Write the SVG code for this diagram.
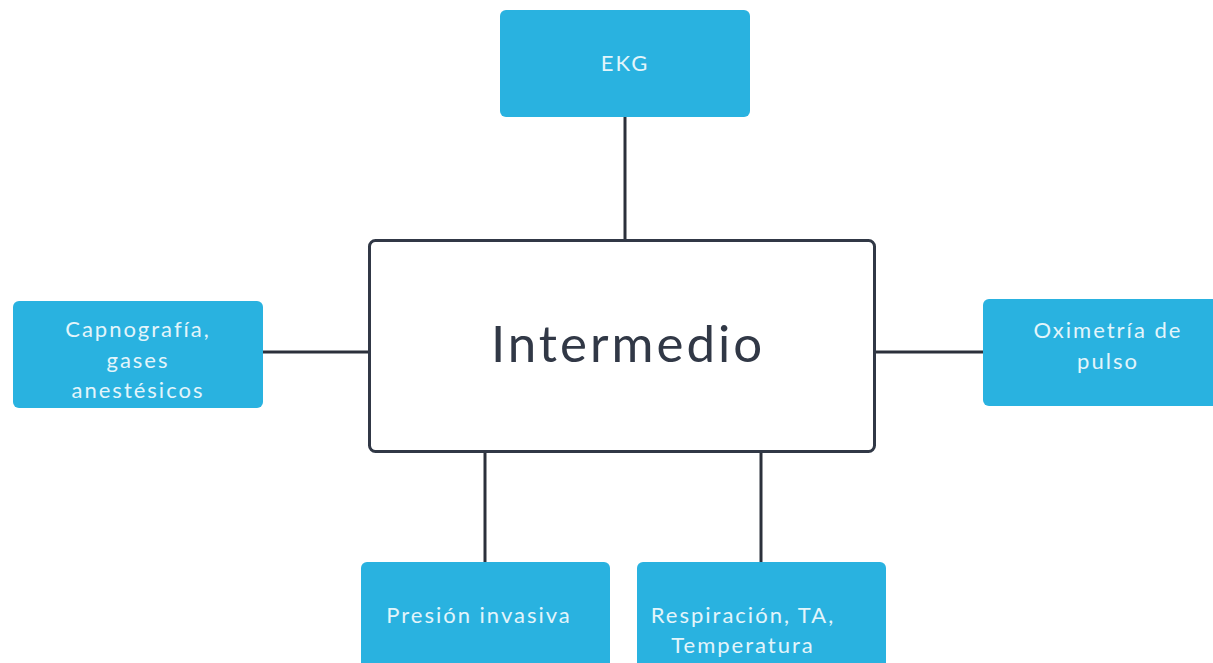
<svg xmlns="http://www.w3.org/2000/svg" width="1213" height="663" viewBox="0 0 1213 663">
  <style>
    .leaf { fill: #29b2e0; }
    .leaf-text { fill: #e3f5fb; font-family: Lato, "Open Sans", sans-serif; font-size: 22px; letter-spacing: 2px; text-anchor: middle; }
    .hub { fill: #ffffff; stroke: #313846; stroke-width: 3; }
    .hub-text { fill: #313846; font-family: Lato, "Open Sans", sans-serif; font-size: 51px; letter-spacing: 3px; text-anchor: middle; }
    .link { stroke: #2b303b; stroke-width: 3; fill: none; }
  </style>
  <rect width="1213" height="663" fill="#ffffff"/>

  <g id="connectors">
    <line class="link" x1="625" y1="117" x2="625" y2="240"/>
    <line class="link" x1="263" y1="352" x2="369" y2="352"/>
    <line class="link" x1="875" y1="352" x2="983" y2="352"/>
    <line class="link" x1="485" y1="452" x2="485" y2="562"/>
    <line class="link" x1="761" y1="452" x2="761" y2="562"/>
  </g>

  <g id="node-intermedio">
    <rect class="hub" x="369.5" y="240.5" width="505" height="211" rx="6"/>
    <text class="hub-text" x="628" y="362">Intermedio</text>
  </g>

  <g id="node-ekg">
    <rect class="leaf" x="500" y="10" width="250" height="107" rx="6"/>
    <text class="leaf-text" x="625" y="71">EKG</text>
  </g>

  <g id="node-capnografia">
    <rect class="leaf" x="13" y="301" width="250" height="107" rx="6"/>
    <text class="leaf-text" x="138" y="337">Capnografía,</text>
    <text class="leaf-text" x="138" y="368">gases</text>
    <text class="leaf-text" x="138" y="398">anestésicos</text>
  </g>

  <g id="node-oximetria">
    <rect class="leaf" x="983" y="299" width="250" height="107" rx="6"/>
    <text class="leaf-text" x="1108" y="338">Oximetría de</text>
    <text class="leaf-text" x="1108" y="369">pulso</text>
  </g>

  <g id="node-presion">
    <rect class="leaf" x="361" y="562" width="249" height="120" rx="6"/>
    <text class="leaf-text" x="479" y="623">Presión invasiva</text>
  </g>

  <g id="node-respiracion">
    <rect class="leaf" x="637" y="562" width="249" height="120" rx="6"/>
    <text class="leaf-text" x="743" y="623">Respiración, TA,</text>
    <text class="leaf-text" x="743" y="653">Temperatura</text>
  </g>
</svg>
